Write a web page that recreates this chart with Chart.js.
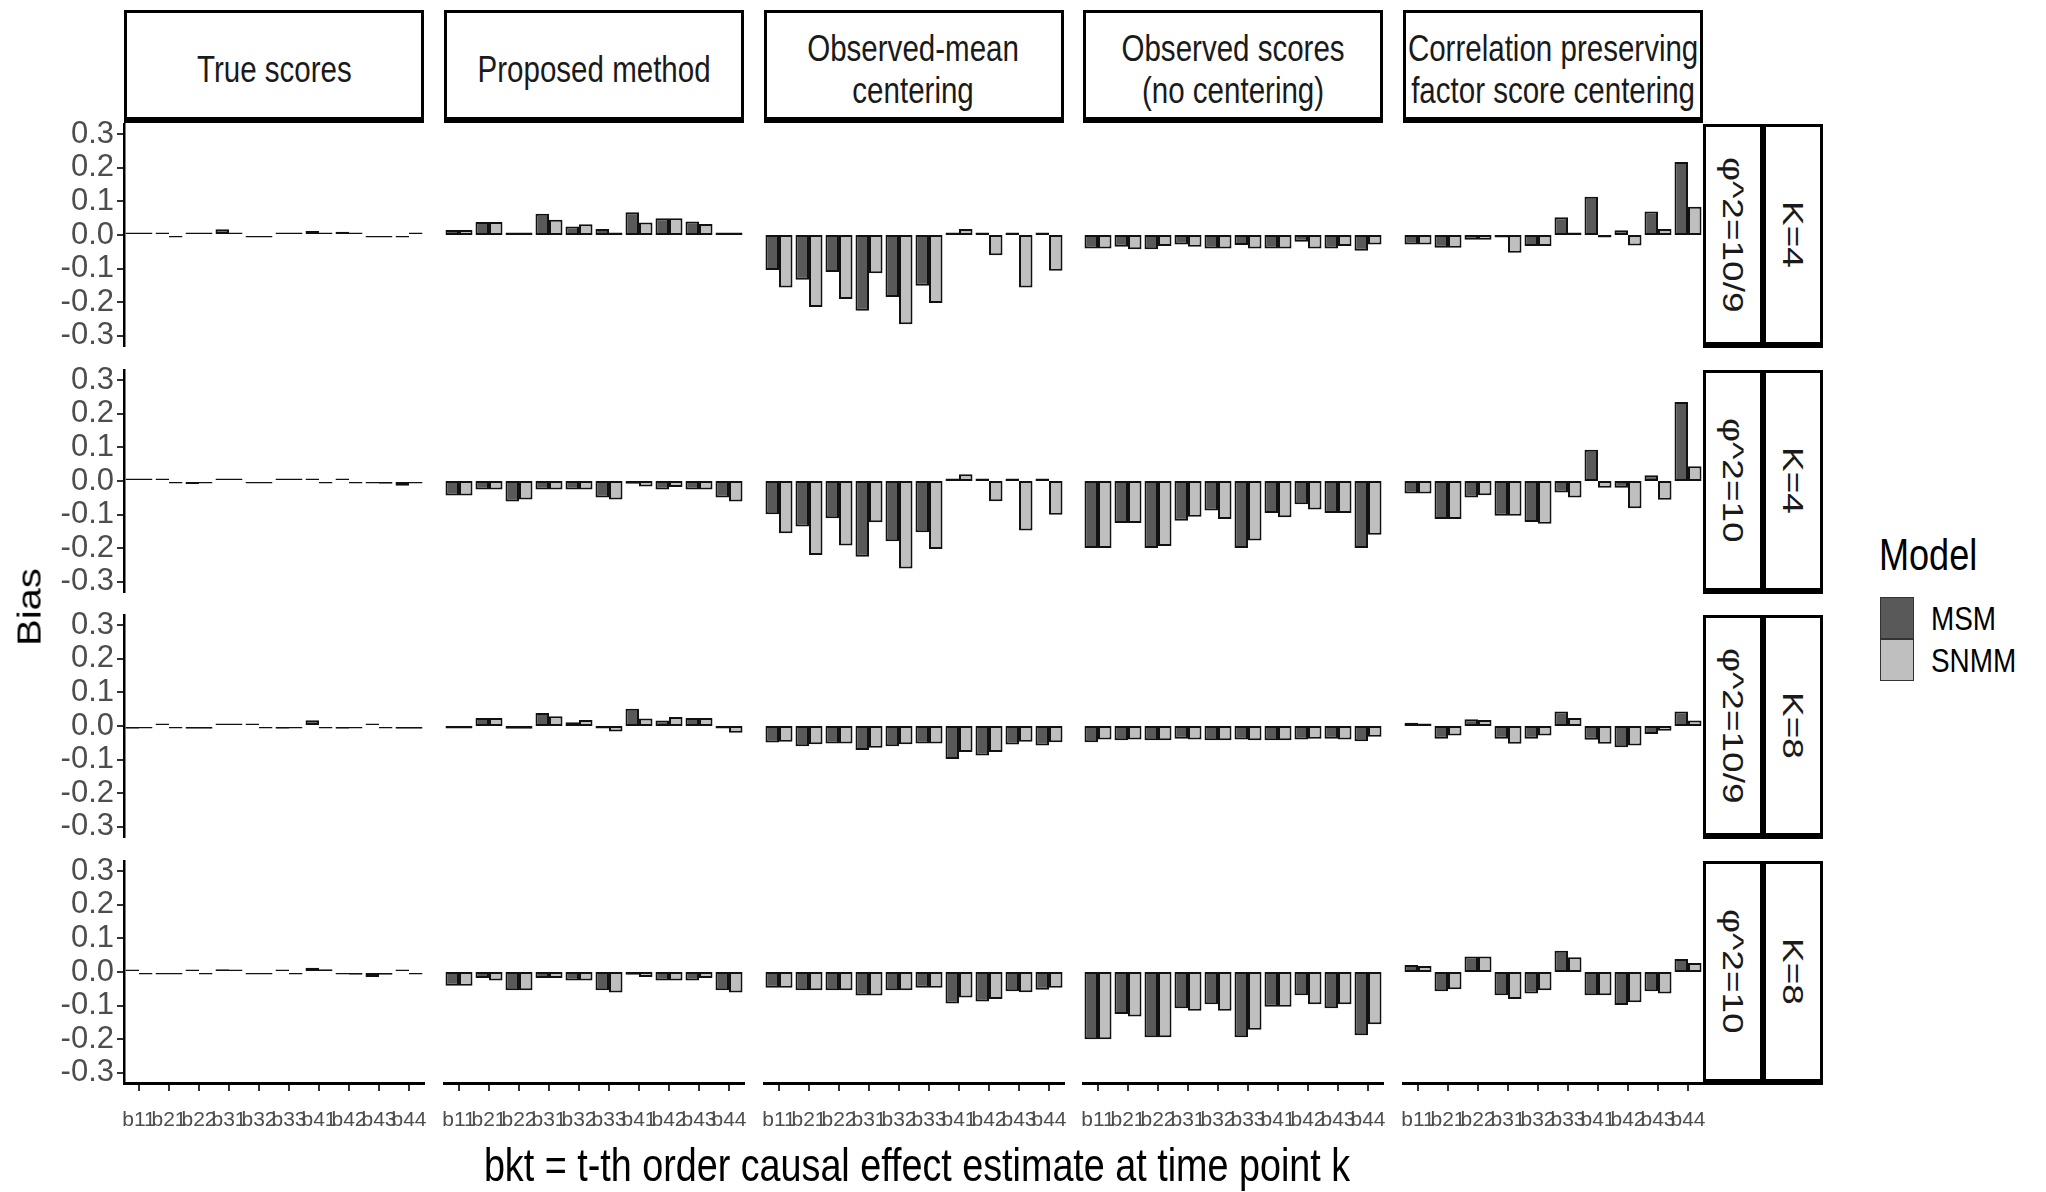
<!DOCTYPE html>
<html>
<head>
<meta charset="utf-8">
<script src="https://cdn.jsdelivr.net/npm/chart.js@4.4.0/dist/chart.umd.min.js"></script>
<style>
body { margin: 0; background: #fff; width: 2046px; height: 1192px; position: relative; overflow: hidden; font-family: 'Liberation Sans', Arial, sans-serif; }
canvas { position: absolute; }
.strip { position: absolute; box-sizing: border-box; border: 3px solid #000; border-bottom-width: 6px; background: #fff; display: flex; align-items: center; justify-content: center; color: #1a1a1a; }
.strip.top { padding-top: 9px; }
.strip span { display: inline-block; white-space: nowrap; font-size: 36px; line-height: 42px; text-align: center; transform: scaleX(0.82); }
.strip.side span { writing-mode: vertical-rl; font-size: 37px; line-height: 40px; transform: scaleX(0.82); }
.lbl { position: absolute; white-space: nowrap; color: #000; }
.key { position: absolute; box-sizing: border-box; border: 1.5px solid #333; }
</style>
</head>
<body>
<div id="app"></div>
<script>
const categories = ['b11', 'b21', 'b22', 'b31', 'b32', 'b33', 'b41', 'b42', 'b43', 'b44'];
const methods = [['True scores'], ['Proposed method'], ['Observed-mean', 'centering'], ['Observed scores', '(no centering)'], ['Correlation preserving', 'factor score centering']];
const phiLabels = ['φ^2=10/9', 'φ^2=10', 'φ^2=10/9', 'φ^2=10'];
const kLabels = ['K=4', 'K=4', 'K=8', 'K=8'];
const yTicks = [-0.3, -0.2, -0.1, 0, 0.1, 0.2, 0.3];
const seriesNames = ['MSM', 'SNMM'];

// each row: one array per method (column), values per category
const msm_phi109_K4 = [
    [0.002, 0.006, 0.002, 0.017, -0.007, 0.003, 0.012, 0.01, -0.007, -0.007],
    [0.015, 0.039, 0.004, 0.063, 0.025, 0.018, 0.068, 0.05, 0.04, 0.005],
    [-0.104, -0.133, -0.11, -0.225, -0.184, -0.151, 0.003, 0.002, 0.002, 0.002],
    [-0.04, -0.035, -0.042, -0.028, -0.04, -0.03, -0.04, -0.02, -0.04, -0.047],
    [-0.028, -0.038, -0.014, -0.003, -0.033, 0.053, 0.114, 0.014, 0.07, 0.217]
];
const snmm_phi109_K4 = [
    [0.002, -0.002, 0.002, 0.006, -0.007, 0.005, 0.002, 0.005, -0.007, 0.002],
    [0.015, 0.039, 0.004, 0.045, 0.032, 0.005, 0.037, 0.05, 0.033, 0.002],
    [-0.156, -0.214, -0.19, -0.114, -0.265, -0.202, 0.018, -0.06, -0.156, -0.106],
    [-0.04, -0.042, -0.033, -0.035, -0.04, -0.04, -0.04, -0.04, -0.033, -0.028],
    [-0.028, -0.038, -0.014, -0.053, -0.033, 0.003, -0.003, -0.031, 0.018, 0.084]
];
const msm_phi10_K4 = [
    [0.002, 0.006, -0.009, 0.002, -0.006, 0.002, 0.005, 0.005, -0.006, -0.014],
    [-0.043, -0.025, -0.061, -0.025, -0.025, -0.049, -0.008, -0.025, -0.025, -0.049],
    [-0.099, -0.135, -0.111, -0.225, -0.179, -0.152, 0.002, 0.002, 0.002, 0.002],
    [-0.199, -0.125, -0.199, -0.118, -0.088, -0.199, -0.095, -0.069, -0.095, -0.199],
    [-0.037, -0.113, -0.049, -0.103, -0.122, -0.034, 0.093, -0.02, 0.017, 0.235]
];
const snmm_phi10_K4 = [
    [0.002, -0.002, -0.002, 0.002, -0.005, 0.002, -0.002, -0.002, -0.008, -0.004],
    [-0.043, -0.025, -0.055, -0.025, -0.025, -0.055, -0.016, -0.018, -0.025, -0.061],
    [-0.155, -0.22, -0.192, -0.123, -0.26, -0.202, 0.02, -0.06, -0.147, -0.1],
    [-0.199, -0.125, -0.193, -0.106, -0.113, -0.177, -0.108, -0.085, -0.095, -0.16],
    [-0.037, -0.113, -0.042, -0.103, -0.127, -0.049, -0.02, -0.081, -0.056, 0.044]
];
const msm_phi109_K8 = [
    [-0.008, 0.005, -0.008, 0.003, 0.003, -0.008, 0.017, -0.008, 0.004, -0.008],
    [-0.002, 0.024, -0.008, 0.039, 0.011, -0.002, 0.051, 0.016, 0.024, -0.002],
    [-0.049, -0.06, -0.052, -0.071, -0.06, -0.052, -0.098, -0.088, -0.055, -0.058],
    [-0.048, -0.042, -0.042, -0.038, -0.042, -0.04, -0.042, -0.04, -0.038, -0.045],
    [0.01, -0.038, 0.02, -0.038, -0.038, 0.043, -0.041, -0.063, -0.024, 0.043]
];
const snmm_phi109_K8 = [
    [-0.003, -0.002, -0.008, 0.003, -0.004, -0.003, -0.002, -0.002, -0.002, -0.008],
    [-0.002, 0.024, -0.008, 0.029, 0.018, -0.016, 0.022, 0.027, 0.024, -0.02],
    [-0.047, -0.054, -0.052, -0.065, -0.054, -0.052, -0.077, -0.077, -0.047, -0.048],
    [-0.04, -0.04, -0.042, -0.04, -0.042, -0.042, -0.042, -0.038, -0.04, -0.032],
    [0.006, -0.028, 0.018, -0.053, -0.028, 0.024, -0.053, -0.058, -0.014, 0.016]
];
const msm_phi10_K8 = [
    [0.002, -0.007, 0.002, 0.008, -0.007, 0.002, 0.013, -0.005, -0.015, 0.002],
    [-0.041, -0.018, -0.054, -0.018, -0.025, -0.054, -0.008, -0.025, -0.025, -0.054],
    [-0.047, -0.054, -0.054, -0.07, -0.054, -0.047, -0.094, -0.088, -0.057, -0.053],
    [-0.2, -0.125, -0.194, -0.108, -0.096, -0.194, -0.103, -0.069, -0.108, -0.188],
    [0.021, -0.057, 0.046, -0.069, -0.064, 0.063, -0.069, -0.098, -0.057, 0.039]
];
const snmm_phi10_K8 = [
    [-0.002, -0.007, -0.002, 0.002, -0.007, -0.002, 0.008, -0.008, -0.008, -0.002],
    [-0.041, -0.025, -0.054, -0.018, -0.025, -0.061, -0.015, -0.025, -0.018, -0.061],
    [-0.047, -0.054, -0.054, -0.07, -0.054, -0.047, -0.076, -0.08, -0.06, -0.047],
    [-0.2, -0.132, -0.194, -0.115, -0.115, -0.172, -0.103, -0.096, -0.096, -0.155],
    [0.018, -0.051, 0.046, -0.08, -0.054, 0.044, -0.069, -0.09, -0.064, 0.027]
];

const msmRows = [msm_phi109_K4, msm_phi10_K4, msm_phi109_K8, msm_phi10_K8];
const snmmRows = [snmm_phi109_K4, snmm_phi10_K4, snmm_phi109_K8, snmm_phi10_K8];

const MSM_COLOR = '#595959';
const SNMM_COLOR = '#bfbfbf';
const TICK_COLOR = '#4d4d4d';

// layout (px)
const colLeft = i => 124 + i * 319.75;
const rowTop = j => 124 + j * 245.6;
const panelW = 300, panelH = 222;
const yAxisW = 84, xAxisH = 60;
const M = 24; // spare room round each canvas so edge labels are not cut

// use the narrow face for the x ticks if it is installed
const probe = document.createElement('canvas').getContext('2d');
probe.font = '40px "Liberation Sans Narrow", monospace';
const wN = probe.measureText('b11b21b22').width;
probe.font = '40px monospace';
const hasNarrow = Math.abs(wN - probe.measureText('b11b21b22').width) > 0.5;
const xTickFamily = hasNarrow ? "'Liberation Sans Narrow', 'Liberation Sans', Arial" : "'Liberation Sans', Arial";
const xTickSize = hasNarrow ? 25 : 21;

const app = document.getElementById('app');

function addDiv(cls, css, html) {
    const d = document.createElement('div');
    d.className = cls;
    d.style.cssText = css;
    d.innerHTML = html;
    app.appendChild(d);
    return d;
}

// column strips
methods.forEach((m, i) => {
    addDiv('strip top', `left:${colLeft(i)}px;top:10px;width:${panelW}px;height:113px;`, '<span>' + m.join('<br>') + '</span>');
});

// row strips
for (let j = 0; j < 4; j++) {
    addDiv('strip side', `left:1703px;top:${rowTop(j)}px;width:60px;height:${panelH + 2}px;`, '<span>' + phiLabels[j] + '</span>');
    addDiv('strip side', `left:1763px;top:${rowTop(j)}px;width:60px;height:${panelH + 2}px;`, '<span>' + kLabels[j] + '</span>');
}

for (let j = 0; j < 4; j++) {
    for (let i = 0; i < 5; i++) {
        const left = i === 0;
        const bottom = j === 3;
        const cv = document.createElement('canvas');
        cv.width = panelW + 2 * M + (left ? yAxisW : 0);
        cv.height = panelH + 2 * M + (bottom ? xAxisH : 0);
        cv.style.left = (colLeft(i) - M - (left ? yAxisW : 0)) + 'px';
        cv.style.top = (rowTop(j) - M) + 'px';
        app.appendChild(cv);

        new Chart(cv, {
            type: 'bar',
            data: {
                labels: categories,
                datasets: [{
                    label: seriesNames[0],
                    data: msmRows[j][i],
                    backgroundColor: MSM_COLOR,
                    borderColor: '#111',
                    borderWidth: 2,
                    borderSkipped: false,
                    minBarLength: 2.5,
                    categoryPercentage: 0.9,
                    barPercentage: 1
                }, {
                    label: seriesNames[1],
                    data: snmmRows[j][i],
                    backgroundColor: SNMM_COLOR,
                    borderColor: '#111',
                    borderWidth: 2,
                    borderSkipped: false,
                    minBarLength: 2.5,
                    categoryPercentage: 0.9,
                    barPercentage: 1
                }]
            },
            options: {
                responsive: false,
                animation: false,
                layout: { padding: M },
                plugins: { legend: { display: false }, tooltip: { enabled: false } },
                scales: {
                    x: {
                        display: bottom,
                        offset: true,
                        grid: { display: true, offset: false, drawOnChartArea: false, drawTicks: true, tickLength: 8, color: '#333', lineWidth: 2 },
                        border: { display: true, color: '#000', width: 3 },
                        ticks: { autoSkip: false, maxRotation: 0, minRotation: 0, padding: 17, color: TICK_COLOR, font: { family: xTickFamily, size: xTickSize } },
                        afterFit: s => { if (bottom) s.height = xAxisH; s.paddingLeft = 0; s.paddingRight = 0; }
                    },
                    y: {
                        display: left,
                        min: -0.33,
                        max: 0.33,
                        afterBuildTicks: s => { s.ticks = yTicks.map(v => ({ value: v })); },
                        grid: { display: true, drawOnChartArea: false, drawTicks: true, tickLength: 7, color: '#333', lineWidth: 2 },
                        border: { display: true, color: '#000', width: 2.5 },
                        ticks: { autoSkip: false, padding: 3, color: TICK_COLOR, font: { family: "'Liberation Sans', Arial", size: 31 }, callback: v => Number(v).toFixed(1) },
                        afterFit: s => { if (left) s.width = yAxisW; s.paddingTop = 0; s.paddingBottom = 0; }
                    }
                }
            }
        });
    }
}

// axis titles
addDiv('lbl', 'left:29px;top:607px;font-size:40px;transform:translate(-50%,-50%) rotate(-90deg) scaleY(0.82);', 'Bias');
addDiv('lbl', 'left:917px;top:1165px;font-size:46px;transform:translate(-50%,-50%) scaleX(0.82);', 'bkt = t-th order causal effect estimate at time point k');

// legend
addDiv('lbl', 'left:1879px;top:555px;font-size:44px;transform-origin:left center;transform:translateY(-50%) scaleX(0.82);', 'Model');
addDiv('key', `left:1880px;top:597px;width:34px;height:42px;background:${MSM_COLOR};`, '');
addDiv('key', `left:1880px;top:639px;width:34px;height:42px;background:${SNMM_COLOR};`, '');
addDiv('lbl', 'left:1931px;top:618px;font-size:34px;transform-origin:left center;transform:translateY(-50%) scaleX(0.82);', seriesNames[0]);
addDiv('lbl', 'left:1931px;top:660px;font-size:34px;transform-origin:left center;transform:translateY(-50%) scaleX(0.82);', seriesNames[1]);
</script>
</body>
</html>
